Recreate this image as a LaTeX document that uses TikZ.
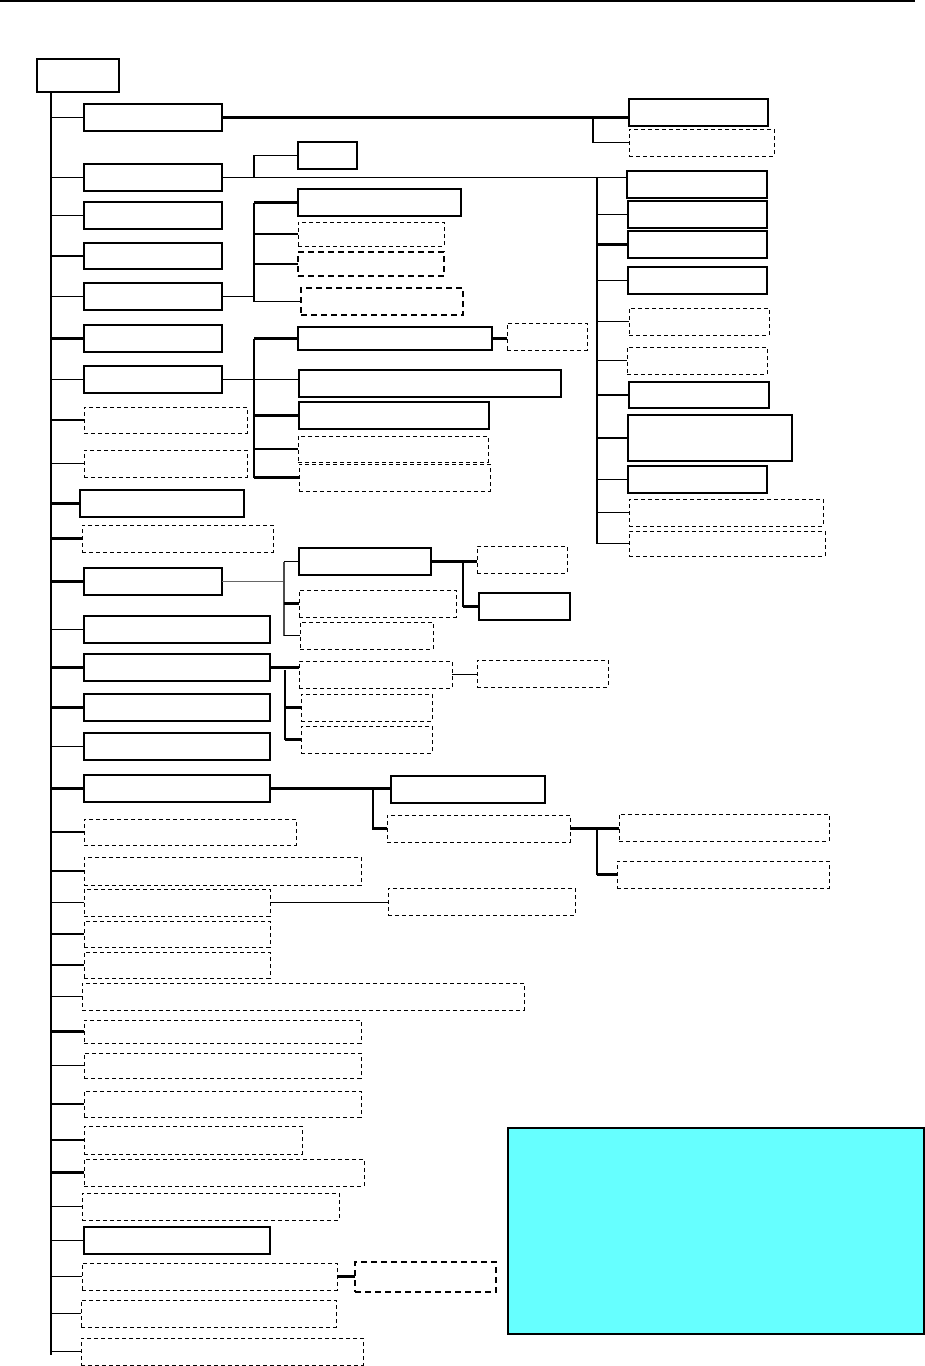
\documentclass[tikz,border=0pt]{standalone}
\begin{document}
\begin{tikzpicture}[x=0.5pt,y=-0.5pt,
  sbox/.style={draw,line width=0.6pt},
  dbox/.style={draw,line width=0.5pt,dash pattern=on 2pt off 1.5pt},
  tdbox/.style={draw,line width=1pt,dash pattern=on 3pt off 2pt},
  cbox/.style={draw,line width=1.1pt,fill={rgb,255:red,102;green,255;blue,255}},
  ln/.style={line width=0.55pt},
  tk/.style={line width=1.25pt},
  every node/.style={inner sep=0pt,outer sep=0pt}]
\useasboundingbox (0,0) rectangle (925,1366);
\newcommand\bx[6]{\node[#2,anchor=north west,minimum width={(#5-#3)*0.5pt},minimum height={(#6-#4)*0.5pt}] (#1) at (#3,#4) {};}
% top rule
\coordinate (rl) at (0,1); \coordinate (rr) at (915,1);
\draw[line width=1pt] (rl) -- (rr);
% left column
\bx{root}{sbox}{37}{59}{119}{92}
\bx{b1}{sbox}{84}{104}{222}{131}
\bx{b2}{sbox}{84}{164}{222}{191}
\bx{b3}{sbox}{84}{202}{222}{229}
\bx{b4}{sbox}{84}{243}{222}{269}
\bx{b5}{sbox}{84}{283}{222}{310}
\bx{b6}{sbox}{84}{325}{222}{352}
\bx{b7}{sbox}{84}{366}{222}{393}
\bx{b8}{dbox}{84}{407}{247}{433}
\bx{b9}{dbox}{84}{450}{247}{477}
\bx{b10}{sbox}{80}{490}{244}{517}
\bx{b11}{dbox}{82}{525}{273}{552}
\bx{b12}{sbox}{84}{568}{222}{595}
\bx{b13}{sbox}{84}{616}{270}{643}
\bx{b14}{sbox}{84}{654}{270}{681}
\bx{b15}{sbox}{84}{694}{270}{721}
\bx{b16}{sbox}{84}{733}{270}{760}
\bx{b17}{sbox}{84}{775}{270}{802}
\bx{b18}{dbox}{84}{819}{296}{845}
\bx{b19}{dbox}{84}{857}{361}{885}
\bx{b20}{dbox}{84}{889}{270}{916}
\bx{b21}{dbox}{84}{921}{270}{947}
\bx{b22}{dbox}{84}{952}{270}{978}
\bx{b23}{dbox}{82}{983}{524}{1010}
\bx{b24}{dbox}{84}{1020}{361}{1043}
\bx{b25}{dbox}{84}{1053}{361}{1078}
\bx{b26}{dbox}{84}{1091}{361}{1117}
\bx{b27}{dbox}{84}{1126}{302}{1154}
\bx{b28}{dbox}{84}{1159}{364}{1186}
\bx{b29}{dbox}{82}{1193}{339}{1220}
\bx{b30}{sbox}{84}{1227}{270}{1254}
\bx{b31}{dbox}{82}{1263}{337}{1290}
\bx{b32}{dbox}{81}{1300}{336}{1327}
\bx{b33}{dbox}{81}{1338}{363}{1365}
% right groups
\bx{a1}{sbox}{629}{99}{768}{126}
\bx{a2}{dbox}{629}{129}{774}{156}
\bx{s}{sbox}{298}{142}{357}{169}
\bx{r1}{sbox}{627}{171}{767}{198}
\bx{r2}{sbox}{628}{201}{767}{228}
\bx{r3}{sbox}{628}{231}{767}{258}
\bx{r4}{sbox}{628}{267}{767}{294}
\bx{r5}{dbox}{629}{308}{769}{335}
\bx{r6}{dbox}{627}{347}{767}{374}
\bx{r7}{sbox}{629}{382}{769}{408}
\bx{r8}{sbox}{628}{415}{792}{461}
\bx{r9}{sbox}{628}{466}{767}{493}
\bx{r10}{dbox}{629}{499}{823}{526}
\bx{r11}{dbox}{629}{531}{825}{556}
\bx{c1}{sbox}{298}{189}{461}{216}
\bx{c2}{dbox}{298}{222}{444}{246}
\bx{c3}{tdbox}{298}{252}{444}{276}
\bx{c4}{tdbox}{301}{288}{463}{315}
\bx{d1}{sbox}{298}{327}{492}{350}
\bx{d1a}{dbox}{507}{323}{587}{350}
\bx{d2}{sbox}{299}{370}{561}{397}
\bx{d3}{sbox}{299}{402}{489}{429}
\bx{d4}{dbox}{298}{436}{488}{462}
\bx{d5}{dbox}{299}{464}{490}{491}
\bx{e1}{sbox}{299}{548}{431}{575}
\bx{e2}{dbox}{299}{590}{456}{617}
\bx{e3}{dbox}{300}{622}{433}{649}
\bx{e1a}{dbox}{477}{546}{567}{573}
\bx{e1b}{sbox}{479}{593}{570}{620}
\bx{f1}{dbox}{299}{661}{452}{688}
\bx{f1a}{dbox}{477}{660}{608}{687}
\bx{f2}{dbox}{301}{694}{432}{721}
\bx{f3}{dbox}{301}{726}{432}{753}
\bx{g1}{sbox}{391}{776}{545}{803}
\bx{g2}{dbox}{387}{815}{570}{842}
\bx{g2a}{dbox}{619}{814}{829}{841}
\bx{g2b}{dbox}{617}{861}{829}{888}
\bx{h}{dbox}{388}{888}{575}{915}
\bx{i}{tdbox}{355}{1262}{496}{1292}
\bx{note}{cbox}{508}{1128}{924}{1334}
% trunk
\coordinate (tr) at (51,92);
\coordinate (trb) at (51,1355);
\draw[ln] (tr) -- (trb);
\foreach \n in {b1,b2,b3,b4,b5,b7,b8,b9,b13,b16,b18,b19,b22,b23,b25,b27,b29,b30,b31,b32}
  \draw[ln] (\n.west -| tr) -- (\n.west);
\foreach \n in {b6,b10,b11,b12,b14,b15,b17,b24,b26,b28}
  \draw[tk] (\n.west -| tr) -- (\n.west);
\foreach \n in {b20,b21}
  \draw[line width=0.9pt] (\n.west -| tr) -- (\n.west);
\draw[ln] (b33.west -| tr) -- (b33.west);
% b1 group
\coordinate (j1) at (593,118);
\draw[tk] (b1.east) -- (b1.east -| a1.west);
\draw[ln] (j1) |- (a2.west);
% b2 group
\coordinate (j2) at (254,178);
\coordinate (bus) at (597,178);
\draw[ln] (b2.east) -- (b2.east -| r1.west);
\draw[ln] (j2) |- (s.west);
\draw[tk] (bus) -- (r11.west -| bus);
\foreach \n in {r2,r4,r5,r6,r8,r9,r10,r11}
  \draw[ln] (\n.west -| bus) -- (\n.west);
\foreach \n in {r3,r7}
  \draw[tk] (\n.west -| bus) -- (\n.west);
% b5 group
\coordinate (cb) at (254,300);
\draw[ln] (b5.east) -- (b5.east -| cb);
\draw[tk] (c1.west -| cb) -- (c4.west -| cb);
\draw[tk] (c1.west -| cb) -- (c1.west);
\foreach \n in {c2,c3,c4}
  \draw[ln] (\n.west -| cb) -- (\n.west);
% b7 group
\coordinate (db) at (254,380);
\draw[ln] (b7.east) -- (b7.east -| d2.west);
\draw[line width=0.9pt] (d1.west -| db) -- (d5.west -| db);
\foreach \n in {d1,d3,d5}
  \draw[tk] (\n.west -| db) -- (\n.west);
\draw[ln] (d4.west -| db) -- (d4.west);
\draw[tk] (d1.east) -- (d1.east -| d1a.west);
% b12 group
\coordinate (eb) at (284,582);
\draw[ln,black!60] (b12.east) -- (b12.east -| eb);
\draw[ln,black!70] (e1.west -| eb) -- (e3.west -| eb);
\draw[ln] (e1.west -| eb) -- (e1.west);
\draw[tk] (e2.west -| eb) -- (e2.west);
\draw[ln] (e3.west -| eb) -- (e3.west);
\coordinate (eb2) at (463,563);
\draw[tk] (e1.east) -- (e1.east -| e1a.west);
\draw[ln] (eb2) -- (e1b.west -| eb2);
\draw[tk] (e1b.west -| eb2) -- (e1b.west);
% b14 group
\coordinate (fb) at (285,670);
\draw[tk] (b14.east) -- (b14.east -| f1.west);
\draw[tk] (fb) -- (f3.west -| fb);
\draw[tk] (f2.west -| fb) -- (f2.west);
\draw[tk] (f3.west -| fb) -- (f3.west);
\draw[ln] (f1.east) -- (f1.east -| f1a.west);
% b17 group
\coordinate (gb) at (373,789);
\draw[tk] (b17.east) -- (b17.east -| g1.west);
\draw[tk] (gb) -- (g2.west -| gb) -- (g2.west);
\coordinate (gb2) at (597,828);
\draw[tk] (g2.east) -- (g2.east -| g2a.west);
\draw[ln] (gb2) -- (g2b.west -| gb2);
\draw[tk] (g2b.west -| gb2) -- (g2b.west);
% b20, b31
\draw[ln] (b20.east) -- (b20.east -| h.west);
\draw[tk] (b31.east) -- (b31.east -| i.west);
\end{tikzpicture}
\end{document}
